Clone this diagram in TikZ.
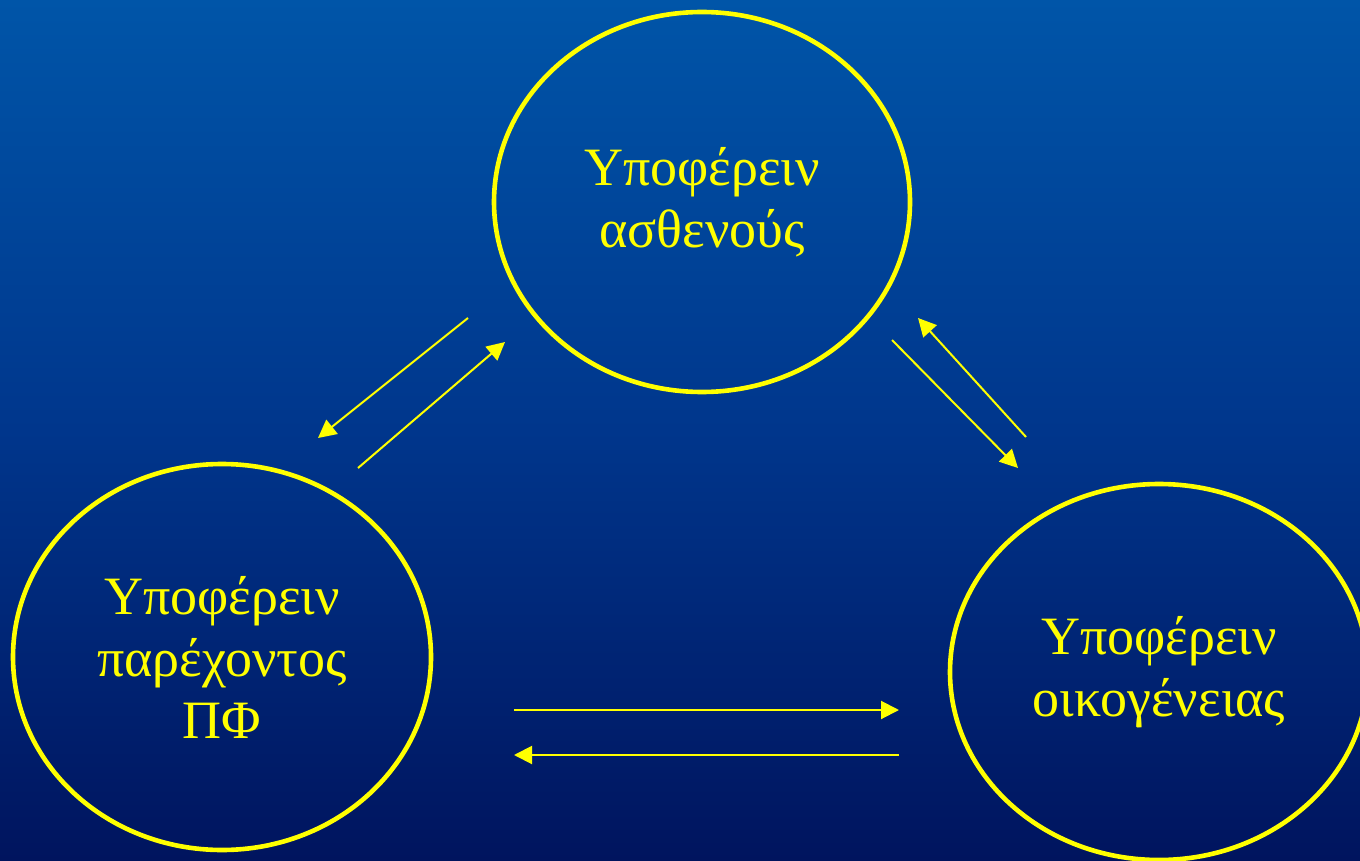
\documentclass[tikz,border=0pt]{standalone}
\usepackage{fontspec}
\setmainfont{Liberation Serif}
\usetikzlibrary{shapes.geometric,arrows.meta}
\definecolor{bgtop}{HTML}{0055A8}
\definecolor{bgmid}{HTML}{00368C}
\definecolor{bgbot}{HTML}{00145E}
\definecolor{ylw}{HTML}{FFFF00}
\begin{document}
\begin{tikzpicture}[x=0.5pt,y=-0.5pt,
  circ/.style={ellipse,draw=ylw,line width=2.3pt,inner sep=0pt,text=ylw,align=center,
    font=\fontsize{27}{31}\selectfont},
  arr/.style={draw=ylw,line width=1pt,-{Triangle[length=9pt,width=9pt]}}]
\useasboundingbox (0,0) rectangle (1360,861);
\clip (0,0) rectangle (1360,861);
\shade[top color=bgtop,bottom color=bgbot,middle color=bgmid] (0,0) rectangle (1360,861);
\node[circ,minimum width=416pt*0.5,minimum height=380pt*0.5] (top) at (702,202) {Υποφέρειν\\ασθενούς};
\node[circ,minimum width=418pt*0.5,minimum height=386pt*0.5] (left) at (222,657) {Υποφέρειν\\παρέχοντος\\ΠΦ};
\node[circ,minimum width=418pt*0.5,minimum height=376pt*0.5] (right) at (1159,672) {Υποφέρειν\\οικογένειας};
\coordinate (a1s) at (468,318); \coordinate (a1e) at (318,438);
\coordinate (a2s) at (358,468); \coordinate (a2e) at (505,342);
\coordinate (a3s) at (892,340); \coordinate (a3e) at (1018,468);
\coordinate (a4s) at (1026,437); \coordinate (a4e) at (918,318);
\coordinate (a5s) at (514,710); \coordinate (a5e) at (899,710);
\coordinate (a6s) at (899,755); \coordinate (a6e) at (514,755);
\draw[arr] (a1s) -- (a1e);
\draw[arr] (a2s) -- (a2e);
\draw[arr] (a3s) -- (a3e);
\draw[arr] (a4s) -- (a4e);
\draw[arr] (a5s) -- (a5e);
\draw[arr] (a6s) -- (a6e);
\end{tikzpicture}
\end{document}
